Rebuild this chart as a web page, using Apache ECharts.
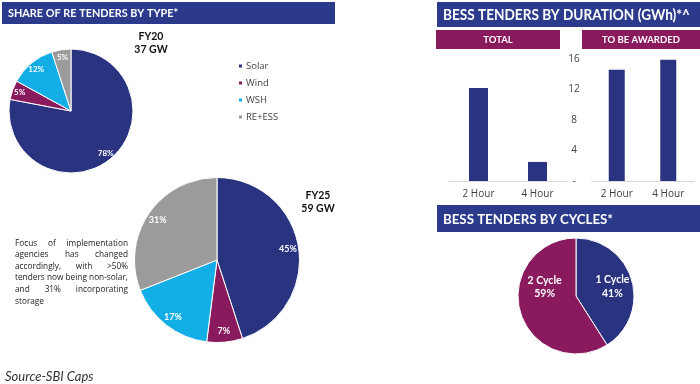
<!DOCTYPE html>
<html><head><meta charset="utf-8">
<script src="https://cdn.jsdelivr.net/npm/echarts@6/dist/echarts.min.js"></script>
<style>html,body{margin:0;padding:0;background:#fff}#c{width:700px;height:384px}</style>
</head><body><div id="c"></div>
<script>
// ---- data ----
const reTypes = ['Solar', 'Wind', 'WSH', 'RE+ESS'];
const fy20Share = [78, 5, 12, 5];
const fy25Share = [45, 7, 17, 31];
const durationCats = ['2 Hour', '4 Hour'];
const totalGWh = [12.2, 2.5];
const toBeAwardedGWh = [14.6, 15.9];
const yTickStep = 4;
const yMax = 16;
const cycleNames = ['1 Cycle', '2 Cycle'];
const cycleShare = [41, 59];
const noteLines = ['Focus of implementation', 'agencies has changed', 'accordingly, with >50%', 'tenders now being non-solar,', 'and 31% incorporating', 'storage'];

// ---- styles ----
const NAVY = '#2a3380', MAG = '#8a1a5e', CYAN = '#14aee6', GREY = '#9b9b9b', BANNER = '#2c3a8c';
const typeColors = [NAVY, MAG, CYAN, GREY];
const FONT = 'Lato, "Open Sans", sans-serif';
const ctx = document.createElement('canvas').getContext('2d');
function measure(text, weight, size, fam) {
  ctx.font = weight + ' ' + size + 'px ' + fam;
  return ctx.measureText(text).width;
}

function pieData(names, vals, colors, transparent) {
  return names.map((n, i) => ({ name: n, value: vals[i], itemStyle: { color: transparent ? 'rgba(0,0,0,0)' : colors[i] } }));
}
function basePie(center, r, names, vals, colors) {
  return { type: 'pie', center, radius: [0, r], startAngle: 90, clockwise: true, silent: true,
    avoidLabelOverlap: false, data: pieData(names, vals, colors, false),
    label: { show: false }, labelLine: { show: false },
    itemStyle: { borderColor: '#fff', borderWidth: 1 } };
}
function labelPie(center, r0, r, names, vals, fontSize, formatter, extra) {
  const d = pieData(names, vals, null, true);
  if (extra) extra.forEach((e, i) => { if (e) d[i].label = e; });
  return { type: 'pie', center, radius: [r0, r], startAngle: 90, clockwise: true, silent: true,
    avoidLabelOverlap: false, data: d, labelLine: { show: false },
    label: { show: true, position: 'inside', formatter, color: '#fff', fontSize, fontWeight: 'bold', fontFamily: FONT, lineHeight: fontSize + 3 },
    itemStyle: { borderWidth: 0 } };
}

// ---- graphics (banners, titles, notes) ----
const graphics = [];
function banner(x, y, w, h, color, text, fs, textW, align) {
  const sx = Math.min(1, textW / measure(text, 'bold', fs, 'Lato'));
  graphics.push({ type: 'rect', shape: { x, y, width: w, height: h }, style: { fill: color }, z: 10 });
  graphics.push({ type: 'text', x: align === 'center' ? x + w / 2 : x + 6, y: y + h / 2 + 0.5, z: 11, scaleX: sx,
    style: { text, fill: '#fff', fontSize: fs, fontWeight: 'bold', fontFamily: 'Lato', align: align || 'left', verticalAlign: 'middle' } });
}
banner(2, 2, 333, 22, BANNER, 'SHARE OF RE TENDERS BY TYPE*', 11.5, 170);
banner(437, 2, 263, 25, BANNER, 'BESS TENDERS BY DURATION (GWh)*^', 15, 247);
banner(436, 30, 124, 19, MAG, 'TOTAL', 9.5, 31, 'center');
banner(582, 30, 118, 19, MAG, 'TO BE AWARDED', 9.5, 83, 'center');
banner(437, 205, 263, 27, BANNER, 'BESS TENDERS BY CYCLES*', 14, 170);

function title(x, y, lines) {
  graphics.push({ type: 'text', x, y, z: 11, style: { text: lines.join('\n'), fill: '#111', fontSize: 10.5, fontWeight: 'bold', fontFamily: FONT, align: 'center', verticalAlign: 'top', lineHeight: 13 } });
}
title(151, 30, ['FY20', '37 GW']);
title(318, 189, ['FY25', '59 GW']);

// justified paragraph
(function () {
  const fam = '"Open Sans"', fs = 9;
  const left = 15, right = 128, top0 = 243, lh = 11.6;
  const sx = Math.min(1, (right - left) / measure('tenders now being non-solar,', 'normal', fs, fam));
  noteLines.forEach((line, li) => {
    const y = top0 + li * lh;
    const words = line.split(' ');
    if (li === noteLines.length - 1 || words.length === 1) {
      graphics.push({ type: 'text', x: left, y, scaleX: sx, style: { text: line, fontSize: fs, fontFamily: fam, fill: '#222', verticalAlign: 'middle' } });
      return;
    }
    const widths = words.map(w => measure(w, 'normal', fs, fam) * sx);
    const gap = (right - left - widths.reduce((a, b) => a + b, 0)) / (words.length - 1);
    let x = left;
    words.forEach((w, i) => {
      graphics.push({ type: 'text', x, y, scaleX: sx, style: { text: w, fontSize: fs, fontFamily: fam, fill: '#222', verticalAlign: 'middle' } });
      x += widths[i] + gap;
    });
  });
})();
graphics.push({ type: 'text', x: 5, y: 377, style: { text: 'Source-SBI Caps', fontSize: 13, fontStyle: 'italic', fontFamily: FONT, fill: '#333', verticalAlign: 'middle' } });

// ---- option ----
const catAxis = (gi) => ({ type: 'category', gridIndex: gi, data: durationCats,
  axisLine: { lineStyle: { color: '#d9d9d9', width: 1 } }, axisTick: { show: false },
  axisLabel: { color: '#404040', fontSize: 10, margin: 8, fontFamily: '"Open Sans", sans-serif' } });
const valAxis = (gi, showLabels) => ({ type: 'value', gridIndex: gi, min: 0, max: yMax, interval: yTickStep,
  show: showLabels, splitLine: { show: false }, axisLine: { show: false }, axisTick: { show: false },
  axisLabel: { show: showLabels, color: '#404040', fontSize: 10, align: 'center', margin: 17,
    fontFamily: '"Open Sans", sans-serif', formatter: v => v === 0 ? '-' : String(v) } });

const option = {
  backgroundColor: '#fff',
  animation: false,
  textStyle: { fontFamily: FONT },
  legend: { orient: 'vertical', left: 237, top: 60, padding: 0, itemWidth: 5, itemHeight: 5, itemGap: 5,
    icon: 'rect', data: reTypes, selectedMode: false,
    textStyle: { fontSize: 9.5, color: '#404040', lineHeight: 12, fontFamily: '"Open Sans", sans-serif', padding: [0, 0, 0, -2] } },
  grid: [
    { left: 449, top: 59, width: 118, height: 122 },
    { left: 591, top: 59, width: 103, height: 122 }
  ],
  xAxis: [catAxis(0), catAxis(1)],
  yAxis: [valAxis(0, false), valAxis(1, true)],
  series: [
    basePie([71, 111], 62, reTypes, fy20Share, typeColors),
    labelPie([71, 111], 41, 62, reTypes, fy20Share, 8, '{c}%'),
    basePie([217, 260], 82.5, reTypes, fy25Share, typeColors),
    labelPie([217, 260], 55, 82.5, reTypes, fy25Share, 9, '{c}%'),
    basePie([576, 296], 58, cycleNames, cycleShare, [NAVY, MAG]),
    labelPie([576, 296], 16, 58, cycleNames, cycleShare, 10.5, '{b}\n{c}%', [{ offset: [-2, 2] }, { offset: [7, -20] }]),
    { type: 'bar', xAxisIndex: 0, yAxisIndex: 0, data: totalGWh, barWidth: 19, itemStyle: { color: NAVY }, silent: true },
    { type: 'bar', xAxisIndex: 1, yAxisIndex: 1, data: toBeAwardedGWh, barWidth: 16, itemStyle: { color: NAVY }, silent: true }
  ],
  graphic: graphics
};
const chart = echarts.init(document.getElementById('c'), null, { renderer: 'canvas' });
chart.setOption(option);
</script></body></html>
